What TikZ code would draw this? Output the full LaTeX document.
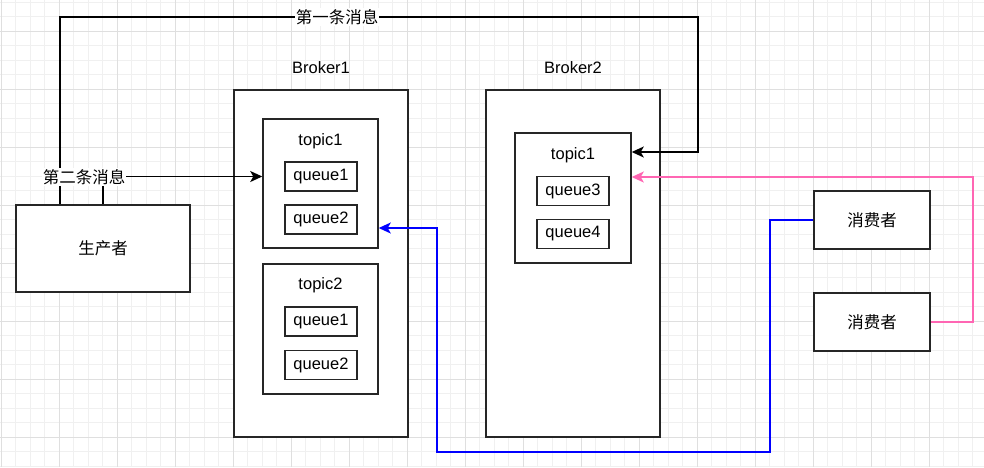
\documentclass[tikz,border=0pt]{standalone}
\usepackage{fontspec}
\setmainfont{Liberation Sans}
\newfontfamily\cjk{Noto Sans CJK SC}
\usetikzlibrary{arrows.meta}
\definecolor{linkpink}{RGB}{255,102,179}

\begin{document}
\begin{tikzpicture}[x = 1pt, y = -1pt]
        \tikzstyle{every node} = [font = \fontsize{16.5}{19}\selectfont, inner sep = 1pt]
        \tikzstyle{minorgrid} = [line width = 1pt, draw = gray!12]
        \tikzstyle{majorgrid} = [line width = 1pt, draw = gray!25]
        \tikzstyle{box} = [rectangle, draw = black!85, line width = 1.5pt, fill = white]
        \tikzstyle{queuebox} = [box, minimum width = 72pt, minimum height = 29pt]
        \tikzstyle{link} = [line width = 1.5pt, -{Stealth[length = 12pt, width = 11pt, inset = 3pt]}]
        \useasboundingbox (0, 0) rectangle (984, 467);
        \fill[white] (0, 0) rectangle (984, 467);

        \foreach \gx in {1.3, 15.8, ..., 984} \draw[minorgrid] (\gx, 0) -- (\gx, 467);
        \foreach \gy in {2.3, 16.8, ..., 467} \draw[minorgrid] (0, \gy) -- (984, \gy);
        \foreach \gx in {1.3, 59.3, ..., 984} \draw[majorgrid] (\gx, 0) -- (\gx, 467);
        \foreach \gy in {31.3, 89.3, ..., 467} \draw[majorgrid] (0, \gy) -- (984, \gy);

        \node(Broker1 label) at (321, 68) {Broker1};
        \node(Broker1)[box, minimum width = 174pt, minimum height = 347pt] at (321, 263.5) {};
        \node(Topic1 b1)[box, minimum width = 115pt, minimum height = 129pt] at (320.5, 183.5) {};
        \node(Topic1 b1 label) at (320.5, 141) {topic1};
        \node(Queue1 b1)[queuebox] at (321, 176.5) {queue1};
        \node(Queue2 b1)[queuebox] at (321, 219.5) {queue2};
        \node(Topic2 b1)[box, minimum width = 115pt, minimum height = 130pt] at (320.5, 329) {};
        \node(Topic2 b1 label) at (320.5, 285) {topic2};
        \node(Queue3 b1)[queuebox] at (321, 321.5) {queue1};
        \node(Queue4 b1)[queuebox] at (321, 365) {queue2};

        \node(Broker2 label) at (573, 68) {Broker2};
        \node(Broker2)[box, minimum width = 174pt, minimum height = 347pt] at (573, 263.5) {};
        \node(Topic1 b2)[box, minimum width = 116pt, minimum height = 130pt] at (573, 198) {};
        \node(Topic1 b2 label) at (573, 155) {topic1};
        \node(Queue3 b2)[queuebox] at (573, 191) {queue3};
        \node(Queue4 b2)[queuebox] at (573, 234) {queue4};

        \node(Producer)[box, minimum width = 174pt, minimum height = 87pt] at (103, 248.5) {\cjk 生产者};
        \node(Consumer1)[box, minimum width = 116pt, minimum height = 58pt] at (872, 220) {\cjk 消费者};
        \node(Consumer2)[box, minimum width = 116pt, minimum height = 58pt] at (872, 322) {\cjk 消费者};

        \draw [link] ([xshift = -43pt]Producer.north) |- (698, 17) |- ([yshift = 46pt]Topic1 b2.east);
        \draw [link] (Producer.north) |- (Topic1 b1.west |- Queue1 b1);
        \draw [link, color = blue] (Consumer1.west) -| (770, 452) -| (437, 228) -- ([yshift = -44.5pt]Topic1 b1.east);
        \draw [link, color = linkpink] (Consumer2.east) -| (973, 177) -- ([yshift = 21pt]Topic1 b2.east);

        \node(Message1)[fill = white] at (337, 17) {\cjk 第一条消息};
        \node(Message2)[fill = white] at (84, 177) {\cjk 第二条消息};
\end{tikzpicture}
\end{document}
